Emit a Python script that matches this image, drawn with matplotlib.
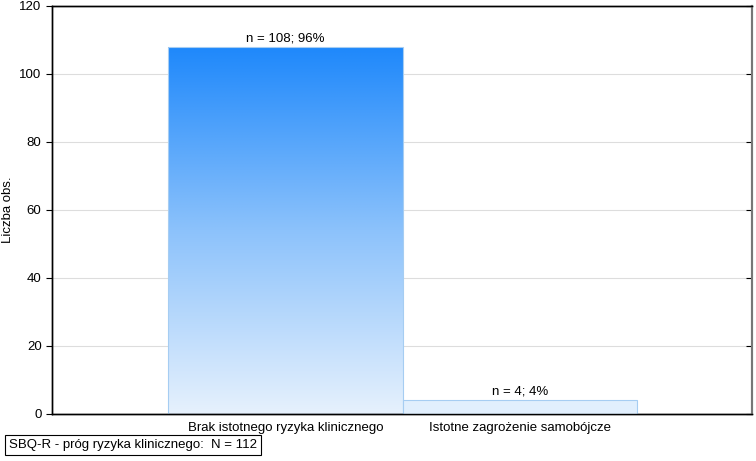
import numpy as np
import matplotlib.pyplot as plt
from matplotlib.colors import LinearSegmentedColormap

plt.rcParams['font.family'] = ['Liberation Sans', 'DejaVu Sans']

categories = ['Brak istotnego ryzyka klinicznego', 'Istotne zagrożenie samobójcze']
counts = [108, 4]
percents = [96, 4]
n_total = 112

fig = plt.figure(figsize=(7.56, 4.61), dpi=100)
ax = fig.add_axes([0.0688, 0.102, 0.926, 0.885])

x = np.arange(len(categories))

# gradient bar
cmap = LinearSegmentedColormap.from_list('blu', ['#e6f1fd', '#8cc2fb', '#1e88fb'])
grad = np.linspace(0, 1, 256).reshape(-1, 1)
bars = ax.bar(x, counts, width=1.0, color='none', edgecolor='#a6cdf2', linewidth=0.8, zorder=3)
for i, b in enumerate(bars):
    if i == 0:
        im = ax.imshow(grad, cmap=cmap, aspect='auto', origin='lower',
                       extent=[b.get_x(), b.get_x() + b.get_width(), 0, b.get_height()], zorder=2)
        im.set_clip_path(b)
    else:
        b.set_facecolor('#e1effd')
ax.set_xlim(-0.995, 1.99)
ax.set_ylim(0, 120)

for xi, c, p in zip(x, counts, percents):
    ax.text(xi, c + 0.8, f'n = {c}; {p}%', ha='center', va='bottom', fontsize=9.5)

ax.set_yticks(np.arange(0, 121, 20))
ax.set_xticks(x)
ax.set_xticklabels(categories, fontsize=9.5)
ax.tick_params(axis='y', labelsize=9.5, direction='out', length=4)
ax.tick_params(axis='x', direction='in', length=3, pad=6)
ax.grid(axis='y', color='#dddddd', linewidth=0.8, zorder=0)
ax.set_axisbelow(True)
ax.set_ylabel('Liczba obs.', fontsize=9.5)

# right-side ticks point inward
ax_r = ax.twinx()
ax_r.set_ylim(ax.get_ylim())
ax_r.set_yticks(np.arange(0, 121, 20))
ax_r.tick_params(axis='y', direction='in', length=4, labelright=False)

for a in (ax, ax_r):
    a.spines['right'].set_color('#777777')
    a.spines['right'].set_linewidth(1.5)
    for s in ['left', 'top', 'bottom']:
        a.spines[s].set_color('black')
        a.spines[s].set_linewidth(1.0)

fig.text(0.012, 0.022, f'SBQ-R - próg ryzyka klinicznego:  N = {n_total}', fontsize=9.5,
         ha='left', va='bottom',
         bbox=dict(facecolor='white', edgecolor='black', linewidth=0.8, pad=3))

fig.savefig('out.png', dpi=100)
